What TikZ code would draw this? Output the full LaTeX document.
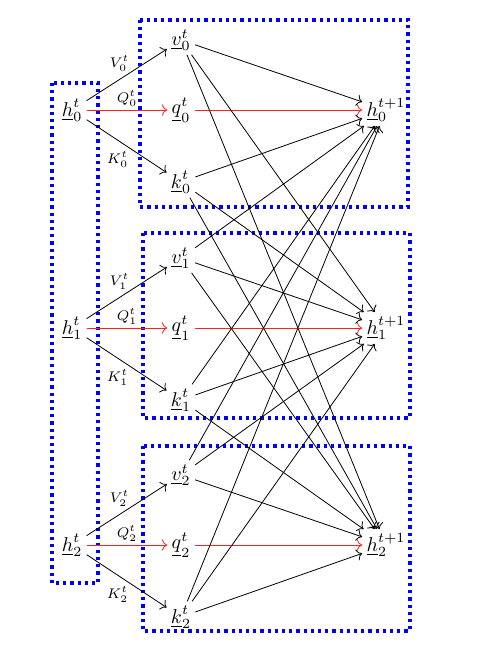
\documentclass[tikz,border=0pt]{standalone}
\usetikzlibrary{arrows.meta}
\definecolor{groupBlue}{HTML}{0000FF}
\definecolor{queryRed}{HTML}{FF2020}

\begin{document}
\begin{tikzpicture}[x=0.5pt, y=-0.5pt, >={To[scale=1.1]},
    var/.style={inner sep=2pt},
    wlabel/.style={font=\scriptsize, inner sep=1pt},
    groupbox/.style={draw=groupBlue, ultra thick, dotted},
    qarrow/.style={->, draw=queryRed}]
  \useasboundingbox (0,0) rectangle (486,665);

  % groupes
  \draw[groupbox] (52,83)   rectangle (98,583);
  \draw[groupbox] (140,20)  rectangle (408,207);
  \draw[groupbox] (143,233) rectangle (410,418);
  \draw[groupbox] (143,446) rectangle (410,631);

  % noeuds, une ligne par tete
  \foreach \i/\y in {0/110, 1/328, 2/545} {
    \node[var] (h\i) at (72,\y)     {$\underline{h}_{\i}^{t}$};
    \node[var] (v\i) at (181,\y-70) {$\underline{v}_{\i}^{t}$};
    \node[var] (q\i) at (181,\y)    {$\underline{q}_{\i}^{t}$};
    \node[var] (k\i) at (181,\y+72) {$\underline{k}_{\i}^{t}$};
    \node[var] (n\i) at (386,\y)    {$\underline{h}_{\i}^{t+1}$};
  }

  % projections et connexions
  \foreach \i in {0,1,2} {
    \draw[->] (h\i) -- node[wlabel, above left, xshift=2.5pt, yshift=0.5pt] {$V_{\i}^{t}$} (v\i);
    \draw[qarrow] (h\i) -- node[wlabel, above, yshift=0.5pt] {$Q_{\i}^{t}$} (q\i);
    \draw[->] (h\i) -- node[wlabel, below left, xshift=2pt, yshift=-1.5pt] {$K_{\i}^{t}$} (k\i);
    \draw[qarrow] (q\i) -- (n\i);
    \foreach \j in {0,1,2} {
      \draw[->] (v\i) -- (n\j);
      \draw[->] (k\i) -- (n\j);
    }
  }
\end{tikzpicture}
\end{document}
